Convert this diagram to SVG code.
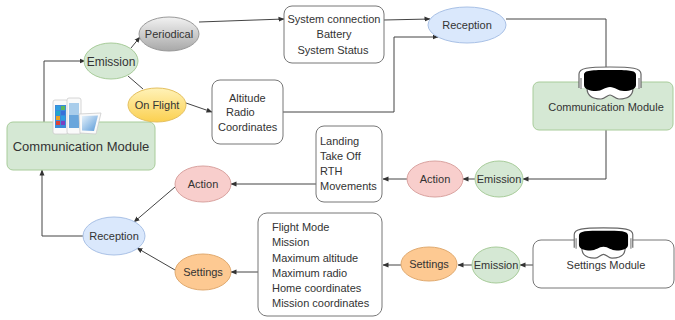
<svg xmlns="http://www.w3.org/2000/svg" width="675" height="320" viewBox="0 0 675 320">
  <defs>
    <style>
      text { font-family: "Liberation Sans", Arial, sans-serif; fill: #333; }
      .lbl { font-size: 11px; text-anchor: middle; }
      .lst { font-size: 11px; }
      .edge { fill: none; stroke: #444; stroke-width: 1; }
      .arr { marker-end: url(#head); }
      .box { fill: #fff; stroke: #777; stroke-width: 1; }
      .green { fill: #d5e8d4; stroke: #a8cc9a; stroke-width: 1; }
      .blue { fill: #dae8fc; stroke: #a9c1e6; stroke-width: 1; }
      .pink { fill: #f8cecc; stroke: #d9a3a0; stroke-width: 1; }
      .orange { fill: #fdc992; stroke: #e0aa70; stroke-width: 1; }
    </style>
    <marker id="head" markerWidth="6" markerHeight="6" refX="5.5" refY="3" orient="auto" markerUnits="userSpaceOnUse">
      <path d="M0,0.5 L6,3 L0,5.5 z" fill="#333"/>
    </marker>
    <linearGradient id="grayGrad" x1="0" y1="0" x2="0" y2="1">
      <stop offset="0" stop-color="#f2f2f2"/>
      <stop offset="1" stop-color="#a8a8a8"/>
    </linearGradient>
    <linearGradient id="yellowGrad" x1="0" y1="0" x2="0" y2="1">
      <stop offset="0" stop-color="#fff2b8"/>
      <stop offset="1" stop-color="#fbd050"/>
    </linearGradient>
    <linearGradient id="tabGrad" x1="0" y1="0" x2="1" y2="1">
      <stop offset="0" stop-color="#e6f2fb"/>
      <stop offset="1" stop-color="#5a9ad8"/>
    </linearGradient>
    <!-- mixed-reality headset pictogram, 64 x 36 -->
    <symbol id="headset" viewBox="0 0 64 36" overflow="visible">
      <path d="M1,23 L1,9 C1,3 10,2 32,2 C54,2 63,3 63,9 L63,23" fill="#fff" stroke="#666" stroke-width="1.2"/>
      <path d="M3,13 L3,24 M61,13 L61,24" stroke="#999" stroke-width="1.5"/>
      <path d="M9,23 C9,31 14,34 23,34 C27,34 29,30 32,30 C35,30 37,34 41,34 C50,34 55,31 55,23" fill="#fff" stroke="#666" stroke-width="1.2"/>
      <path d="M6,10 C6,5 14,5 32,5 C50,5 58,5 58,10 L58,20 C58,24 52,26 46,26 C40,26 37,22 32,22 C27,22 24,26 18,26 C12,26 6,24 6,20 Z" fill="#000"/>
    </symbol>
  </defs>

  <rect width="675" height="320" fill="#fff"/>

  <!-- connectors -->
  <g id="edges">
    <path class="edge arr" d="M44,122 V61 H85"/>
    <path class="edge arr" d="M131,48 L140,37"/>
    <path class="edge" d="M128,76 L143,89"/>
    <path class="edge arr" d="M186,103 L212,112"/>
    <path class="edge arr" d="M199,22 L284,19"/>
    <path class="edge arr" d="M384,20 L430,19"/>
    <path class="edge arr" d="M283,112 H394 V37 H438"/>
    <path class="edge" d="M506,19 H606 V82"/>
    <path class="edge arr" d="M606,130 V179 H523"/>
    <path class="edge arr" d="M475,179 H463"/>
    <path class="edge arr" d="M408,179 H383"/>
    <path class="edge arr" d="M316,184 H231"/>
    <path class="edge arr" d="M175,187 L134,222"/>
    <path class="edge arr" d="M83,236 H42 V170"/>
    <path class="edge arr" d="M533,265 H520"/>
    <path class="edge arr" d="M472,265 H458"/>
    <path class="edge arr" d="M401,265 H383"/>
    <path class="edge arr" d="M258,272 H231"/>
    <path class="edge arr" d="M175,270 L137,248"/>
  </g>

  <!-- ground-station communication module with mobile devices -->
  <g id="comm-module-left">
    <rect class="green" x="7" y="122" width="148" height="48" rx="6"/>
    <text x="81" y="151" style="font-size:13px" text-anchor="middle">Communication Module</text>
    <g id="devices">
      <rect x="53" y="100" width="15" height="34" rx="2" fill="#fafafa" stroke="#ccc" stroke-width="0.8"/>
      <rect x="55" y="105" width="11" height="23" fill="#3b8ad9"/>
      <rect x="56" y="106" width="4" height="4" fill="#2f9de0"/>
      <rect x="61" y="106" width="4" height="4" fill="#5cb85c"/>
      <rect x="56" y="111" width="4" height="4" fill="#22a7c9"/>
      <rect x="61" y="111" width="4" height="4" fill="#3a6fd8"/>
      <rect x="56" y="116" width="4" height="4" fill="#e8a020"/>
      <rect x="61" y="116" width="4" height="4" fill="#2f9de0"/>
      <rect x="56" y="121" width="4" height="4" fill="#d9443a"/>
      <rect x="61" y="121" width="4" height="4" fill="#7a3fc0"/>
      <rect x="67" y="98" width="14" height="36" rx="2" fill="#fafafa" stroke="#ccc" stroke-width="0.8"/>
      <rect x="69" y="103" width="10" height="25" fill="#a9cdeb"/>
      <rect x="69" y="115" width="10" height="13" fill="#6aa6dc"/>
      <path d="M79,114 L101,113 L96,134 L80,133 Z" fill="#fafafa" stroke="#ccc" stroke-width="0.8"/>
      <path d="M82,116 L98,115.5 L94,131 L82,130.5 Z" fill="url(#tabGrad)"/>
    </g>
  </g>

  <g id="emission-top">
    <ellipse class="green" cx="111" cy="61" rx="27" ry="18"/>
    <text x="111" y="65.5" style="font-size:12px" text-anchor="middle">Emission</text>
  </g>

  <g id="periodical">
    <ellipse cx="169" cy="34" rx="30" ry="17" fill="url(#grayGrad)" stroke="#999" stroke-width="1"/>
    <text class="lbl" x="169" y="38">Periodical</text>
  </g>

  <g id="on-flight">
    <ellipse cx="157" cy="105" rx="29" ry="17" fill="url(#yellowGrad)" stroke="#e4c060" stroke-width="1"/>
    <text class="lbl" x="157" y="109">On Flight</text>
  </g>

  <g id="status-data">
    <rect class="box" x="284" y="6" width="100" height="57" rx="8"/>
    <text class="lbl" x="334" y="23">System connection</text>
    <text class="lbl" x="334" y="38">Battery</text>
    <text class="lbl" x="333" y="54">System Status</text>
  </g>

  <g id="flight-data">
    <rect class="box" x="212" y="80" width="71" height="64" rx="8"/>
    <text class="lst" x="229" y="102">Altitude</text>
    <text class="lst" x="226" y="116">Radio</text>
    <text class="lst" x="218" y="131">Coordinates</text>
  </g>

  <g id="reception-top">
    <ellipse class="blue" cx="467" cy="25" rx="39" ry="18"/>
    <text class="lbl" x="467" y="29">Reception</text>
  </g>

  <!-- drone-side communication module -->
  <g id="comm-module-right">
    <rect class="green" x="533" y="82" width="140" height="48" rx="6"/>
    <text class="lbl" x="606" y="111">Communication Module</text>
    <use href="#headset" x="578" y="65" width="64" height="36"/>
  </g>

  <g id="emission-mid">
    <ellipse class="green" cx="499" cy="179" rx="24" ry="18"/>
    <text class="lbl" x="499" y="183">Emission</text>
  </g>

  <g id="action-right">
    <ellipse class="pink" cx="435" cy="179" rx="28" ry="18"/>
    <text class="lbl" x="435" y="183">Action</text>
  </g>

  <g id="commands">
    <rect class="box" x="316" y="126" width="66" height="76" rx="8"/>
    <text class="lst" x="320" y="145">Landing</text>
    <text class="lst" x="320" y="160">Take Off</text>
    <text class="lst" x="320" y="175">RTH</text>
    <text class="lst" x="320" y="190">Movements</text>
  </g>

  <g id="action-left">
    <ellipse class="pink" cx="203" cy="184" rx="28" ry="18"/>
    <text class="lbl" x="203" y="188">Action</text>
  </g>

  <g id="reception-left">
    <ellipse class="blue" cx="114" cy="236" rx="31" ry="19"/>
    <text class="lbl" x="114" y="240">Reception</text>
  </g>

  <g id="settings-left">
    <ellipse class="orange" cx="203" cy="272" rx="28" ry="18"/>
    <text class="lbl" x="203" y="276">Settings</text>
  </g>

  <g id="settings-data">
    <rect class="box" x="258" y="213" width="124" height="103" rx="9"/>
    <text class="lst" x="272" y="231">Flight Mode</text>
    <text class="lst" x="272" y="246">Mission</text>
    <text class="lst" x="272" y="262">Maximum altitude</text>
    <text class="lst" x="272" y="277">Maximum radio</text>
    <text class="lst" x="272" y="292">Home coordinates</text>
    <text class="lst" x="272" y="307">Mission coordinates</text>
  </g>

  <g id="settings-right">
    <ellipse class="orange" cx="429" cy="264" rx="28" ry="17"/>
    <text class="lbl" x="429" y="268">Settings</text>
  </g>

  <g id="emission-bottom">
    <ellipse class="green" cx="496" cy="265" rx="24" ry="18"/>
    <text class="lbl" x="496" y="269">Emission</text>
  </g>

  <g id="settings-module">
    <rect class="box" x="533" y="240" width="141" height="48" rx="8"/>
    <text class="lbl" x="606" y="269">Settings Module</text>
    <use href="#headset" x="572" y="226" width="63" height="34"/>
  </g>
</svg>
